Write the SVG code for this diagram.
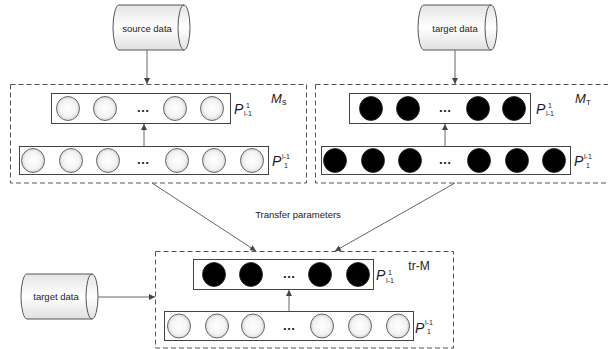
<svg xmlns="http://www.w3.org/2000/svg" width="608" height="349" viewBox="0 0 608 349">
<defs>
<linearGradient id="cyl" x1="0" y1="0" x2="0" y2="1">
<stop offset="0" stop-color="#e4e4e4"/><stop offset="0.5" stop-color="#ffffff"/><stop offset="1" stop-color="#e0e0e0"/>
</linearGradient>
<radialGradient id="wc" cx="0.5" cy="0.5" r="0.5">
<stop offset="0" stop-color="#ffffff"/><stop offset="0.7" stop-color="#f4f4f4"/><stop offset="1" stop-color="#d8d8d8"/>
</radialGradient>
<marker id="ah" viewBox="0 0 10 10" refX="10" refY="5" markerWidth="6" markerHeight="6" markerUnits="userSpaceOnUse" orient="auto">
<path d="M0,0 L10,5 L0,10 Z" fill="#444"/>
</marker>
</defs>
<style>
.dash{fill:none;stroke:#555;stroke-width:1;stroke-dasharray:5,3}
.rect{fill:#fff;stroke:#444;stroke-width:1}
.wc{fill:url(#wc);stroke:#444;stroke-width:0.8}
.bc{fill:#000;stroke:#222;stroke-width:0.8}
.cyl{fill:url(#cyl);stroke:#555;stroke-width:1}
.cylin{fill:none;stroke:#555;stroke-width:1}
.con{fill:none;stroke:#666;stroke-width:1;marker-end:url(#ah)}
.t{font-family:"Liberation Sans",Arial,sans-serif;fill:#222}
.lbl{font-family:"Liberation Sans",Arial,sans-serif;font-size:9.5px;fill:#222;text-anchor:middle}
.dots{font-family:"Liberation Sans",Arial,sans-serif;font-size:13px;font-weight:bold;fill:#222;text-anchor:middle}
.P{font-family:"Liberation Sans",Arial,sans-serif;font-size:14px;font-style:italic;fill:#1a1a2a}
.s{font-family:"Liberation Sans",Arial,sans-serif;font-size:7px;fill:#1a1a2a}
.M{font-family:"Liberation Sans",Arial,sans-serif;font-size:13px;font-style:italic;fill:#222}
</style>

<g id="source-data">
<path class="cyl" d="M119,5 L184,5 A6,22.5 0 0 1 184,50 L119,50 A6,22.5 0 0 1 119,5 Z"/>
<path class="cylin" d="M184,5 A6,22.5 0 0 0 184,50"/>
<text class="lbl" x="147" y="32">source data</text>
</g>

<g id="target-data-top">
<path class="cyl" d="M424,5 L491,5 A6,22.5 0 0 1 491,50 L424,50 A6,22.5 0 0 1 424,5 Z"/>
<path class="cylin" d="M491,5 A6,22.5 0 0 0 491,50"/>
<text class="lbl" x="455" y="32">target data</text>
</g>

<g id="target-data-bottom">
<path class="cyl" d="M27,274 L92,274 A6,22.5 0 0 1 92,319 L27,319 A6,22.5 0 0 1 27,274 Z"/>
<path class="cylin" d="M92,274 A6,22.5 0 0 0 92,319"/>
<text class="lbl" x="56" y="300">target data</text>
</g>

<g id="Ms">
<rect class="dash" x="10.5" y="84.5" width="296" height="98.5"/>
<rect class="rect" x="51.5" y="93.5" width="179" height="30"/>
<ellipse class="wc" cx="68" cy="108.5" rx="11.5" ry="12"/>
<ellipse class="wc" cx="105" cy="108.5" rx="11.5" ry="12"/>
<ellipse class="wc" cx="175" cy="108.5" rx="11.5" ry="12"/>
<ellipse class="wc" cx="212" cy="108.5" rx="11.5" ry="12"/>
<text class="dots" x="143" y="112">…</text>
<rect class="rect" x="19.5" y="146.5" width="249" height="28"/>
<ellipse class="wc" cx="33" cy="160.5" rx="11.5" ry="12"/>
<ellipse class="wc" cx="71" cy="160.5" rx="11.5" ry="12"/>
<ellipse class="wc" cx="108" cy="160.5" rx="11.5" ry="12"/>
<ellipse class="wc" cx="177" cy="160.5" rx="11.5" ry="12"/>
<ellipse class="wc" cx="214" cy="160.5" rx="11.5" ry="12"/>
<ellipse class="wc" cx="252" cy="160.5" rx="11.5" ry="12"/>
<text class="dots" x="143" y="164">…</text>
<line class="con" x1="144" y1="146" x2="144" y2="124"/>
<text class="P" x="234" y="114">P</text><text class="s" x="246" y="108">1</text><text class="s" x="244" y="116">l-1</text>
<text class="P" x="272" y="166">P</text><text class="s" x="282" y="159">l-1</text><text class="s" x="284" y="168">1</text>
<text class="M" x="271" y="103">M</text><text class="s" x="282" y="105" style="font-size:9px">s</text>
</g>

<g id="MT">
<rect class="dash" x="315.5" y="84.5" width="300" height="98.5"/>
<rect class="rect" x="349.5" y="93.5" width="181" height="30"/>
<ellipse class="bc" cx="371" cy="108.5" rx="11.5" ry="12"/>
<ellipse class="bc" cx="408" cy="108.5" rx="11.5" ry="12"/>
<ellipse class="bc" cx="478" cy="108.5" rx="11.5" ry="12"/>
<ellipse class="bc" cx="514" cy="108.5" rx="11.5" ry="12"/>
<text class="dots" x="445" y="112">…</text>
<rect class="rect" x="321.5" y="146.5" width="249" height="28"/>
<ellipse class="bc" cx="335" cy="160.5" rx="11.5" ry="12"/>
<ellipse class="bc" cx="373" cy="160.5" rx="11.5" ry="12"/>
<ellipse class="bc" cx="410" cy="160.5" rx="11.5" ry="12"/>
<ellipse class="bc" cx="479" cy="160.5" rx="11.5" ry="12"/>
<ellipse class="bc" cx="517" cy="160.5" rx="11.5" ry="12"/>
<ellipse class="bc" cx="554" cy="160.5" rx="11.5" ry="12"/>
<text class="dots" x="445" y="164">…</text>
<line class="con" x1="445" y1="146" x2="445" y2="124"/>
<text class="P" x="536" y="114">P</text><text class="s" x="548" y="108">1</text><text class="s" x="546" y="116">l-1</text>
<text class="P" x="574" y="166">P</text><text class="s" x="584" y="159">l-1</text><text class="s" x="586" y="168">1</text>
<text class="M" x="575" y="103">M</text><text class="s" x="586" y="105" style="font-size:8px">T</text>
</g>

<g id="tr-M">
<rect class="dash" x="155.5" y="251.5" width="298" height="96.5"/>
<rect class="rect" x="193.5" y="259.5" width="180" height="30"/>
<ellipse class="bc" cx="214" cy="274.5" rx="11.5" ry="12"/>
<ellipse class="bc" cx="251" cy="274.5" rx="11.5" ry="12"/>
<ellipse class="bc" cx="320" cy="274.5" rx="11.5" ry="12"/>
<ellipse class="bc" cx="358" cy="274.5" rx="11.5" ry="12"/>
<text class="dots" x="289" y="278">…</text>
<rect class="rect" x="164.5" y="311.5" width="249" height="29"/>
<ellipse class="wc" cx="179" cy="326" rx="11.5" ry="12"/>
<ellipse class="wc" cx="217" cy="326" rx="11.5" ry="12"/>
<ellipse class="wc" cx="253" cy="326" rx="11.5" ry="12"/>
<ellipse class="wc" cx="322" cy="326" rx="11.5" ry="12"/>
<ellipse class="wc" cx="360" cy="326" rx="11.5" ry="12"/>
<ellipse class="wc" cx="398" cy="326" rx="11.5" ry="12"/>
<text class="dots" x="289" y="330">…</text>
<line class="con" x1="289" y1="311" x2="289" y2="290"/>
<text class="P" x="376" y="280">P</text><text class="s" x="388" y="275">1</text><text class="s" x="386" y="283">l-1</text>
<text class="P" x="415" y="333">P</text><text class="s" x="425" y="325">l-1</text><text class="s" x="427" y="334">1</text>
<text class="t" x="419" y="270" text-anchor="middle" font-size="12">tr-M</text>
</g>

<g id="connectors">
<line class="con" x1="147" y1="50" x2="147" y2="84"/>
<line class="con" x1="455" y1="50" x2="455" y2="84"/>
<line class="con" x1="98" y1="297" x2="155" y2="297"/>
<line class="con" x1="152" y1="183" x2="256" y2="251"/>
<line class="con" x1="455" y1="183" x2="335" y2="251"/>
<text class="lbl" x="298" y="218">Transfer parameters</text>
</g>
</svg>
